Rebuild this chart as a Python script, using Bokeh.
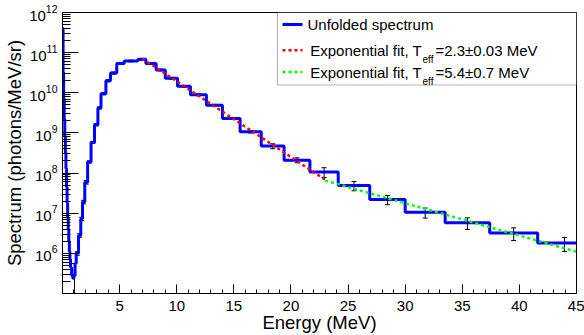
import numpy as np
from bokeh.plotting import figure
from bokeh.models import (FixedTicker, Label, BoxAnnotation, Whisker, TeeHead,
                          ColumnDataSource)
from bokeh.embed import file_html
from bokeh.resources import INLINE

# ---------------- data ----------------
bin_edges = [0.0, 0.05, 0.1, 0.15, 0.2, 0.25, 0.3, 0.35, 0.4, 0.45, 0.5,
             0.55, 0.6, 0.65, 0.7, 0.8, 0.9, 1.0, 1.1, 1.2,
             1.4, 1.6, 1.75, 1.95, 2.2, 2.5, 2.8, 3.1, 3.37, 3.8,
             4.2, 4.75, 5.4, 6.6, 7.3, 8.2, 9.0, 10.07, 11.2, 12.6,
             14.0, 15.55, 17.4, 19.4, 21.66, 24.14, 26.9, 30.0, 33.5, 37.4,
             41.6, 46.3]
spectrum = [4.0e11, 3.2e10, 7.1e9, 2.2e9, 7.9e8, 3.2e8, 1.3e8, 4.5e7, 1.8e7, 7.9e6,
            4.0e6, 2.0e6, 1.1e6, 7.1e5, 4.5e5, 2.8e5, 2.4e5, 2.8e5, 5.6e5,
            1.0e6, 2.8e6, 7.2e6, 1.9e7, 5.9e7, 1.9e8, 5.8e8, 1.6e9, 4.2e9, 9.5e9,
            2.0e10, 3.1e10, 5.4e10, 6.2e10, 6.8e10, 5.4e10, 3.7e10, 2.3e10, 1.45e10, 8.9e9,
            4.9e9, 2.3e9, 1.07e9, 4.7e8, 2.1e8, 1.07e8, 4.9e7, 2.2e7, 1.05e7, 5.8e6,
            3.2e6, 1.8e6]
rel_error = [0, 0, 0, 0, 0, 0, 0, 0, 0, 0,
             0, 0, 0, 0, 0, 0, 0, 1.0, 0,
             0.10, 0.10, 0.10, 0.10, 0.10, 0.06, 0.06, 0.06, 0.06, 0.06,
             0.06, 0.06, 0.06, 0.05, 0.05, 0.05, 0.05, 0.05, 0.05, 0.05,
             0.05, 0.05, 0.07, 0.14, 0.14, 0.27, 0.26, 0.26, 0.28, 0.32,
             0.35, 0.38]

fit1_energy = [7.0, 23.0]
fit1_value = [7.1e10, 6.8e7]
fit2_energy = [23.0, 45.0]
fit2_value = [6.5e7, 1.1e6]

x_ticks = [5, 10, 15, 20, 25, 30, 35, 40, 45]
y_ticks = [1e6, 1e7, 1e8, 1e9, 1e10, 1e11, 1e12]

legend_labels = ["Unfolded spectrum",
                 ("Exponential fit, T", "eff", "=2.3\u00b10.03 MeV"),
                 ("Exponential fit, T", "eff", "=5.4\u00b10.7 MeV")]

# ---------------- layout ----------------
W, H = 584, 335
FL, FR, FT, FB = 62, 576, 12, 295
XMIN, XMAX = 0.0, 45.0
YMIN, YMAX = 1e5, 1e12
FONT = "Liberation Sans"
BLUE, RED, GREEN = "#0000ff", "#ff0000", "#00ff00"


def px2x(px):
    return XMIN + (px - FL) / (FR - FL) * (XMAX - XMIN)


def py2y(py):
    lo, hi = np.log10(YMIN), np.log10(YMAX)
    return 10 ** (hi - (py - FT) / (FB - FT) * (hi - lo))


p = figure(width=W, height=H, x_range=(XMIN, XMAX), y_range=(YMIN, YMAX),
           y_axis_type="log", output_backend="svg", toolbar_location=None,
           min_border_left=FL, min_border_right=W - FR,
           min_border_top=FT, min_border_bottom=H - FB)
p.background_fill_color = "white"
p.border_fill_color = "white"
p.grid.visible = False
p.outline_line_color = "black"
p.outline_line_width = 1
p.outline_line_alpha = 1

xa = p.xaxis[0]
xa.ticker = FixedTicker(ticks=x_ticks, minor_ticks=list(range(0, 46)))
xa.axis_label = "Energy (MeV)"
ya = p.yaxis[0]
ya.ticker = FixedTicker(ticks=y_ticks,
                        minor_ticks=[k * 10.0 ** n for n in range(5, 12) for k in range(1, 10)])
ya.axis_label = "Spectrum (photons/MeV/sr)"
for ax, maj, mino in ((xa, 9, 4), (ya, 16, 8)):
    ax.major_tick_in = maj
    ax.major_tick_out = 0
    ax.minor_tick_in = mino
    ax.minor_tick_out = 0
    ax.major_tick_line_color = "black"
    ax.minor_tick_line_color = "black"
    ax.axis_line_color = "black"
    ax.major_label_text_font = FONT
    ax.major_label_text_font_size = "15px"
    ax.major_label_text_color = "black"
    ax.axis_label_text_font = FONT
    ax.axis_label_text_font_size = "18.5px"
    ax.axis_label_text_font_style = "normal"
    ax.axis_label_text_color = "black"
xa.major_label_standoff = 7
xa.axis_label_standoff = -2
ya.major_label_standoff = 5
ya.axis_label_standoff = 1

# legend box (drawn beneath the glyphs)
p.add_layout(BoxAnnotation(left=px2x(277), right=XMAX, top=YMAX, bottom=py2y(85),
                           fill_color="white", fill_alpha=1, line_color="black",
                           line_width=1, level="underlay"))

# error bars
edges = np.array(bin_edges)
vals = np.array(spectrum)
rel = np.array(rel_error)
centers = 0.5 * (edges[:-1] + edges[1:])
mask = rel > 0
err_src = ColumnDataSource(dict(base=centers[mask], upper=vals[mask] * (1 + rel[mask]),
                                lower=np.maximum(vals[mask] * (1 - rel[mask]), YMIN / 10)))
p.add_layout(Whisker(source=err_src, base="base", upper="upper", lower="lower",
                     dimension="height", line_color="black", line_width=1,
                     upper_head=TeeHead(size=5, line_color="black", line_width=1),
                     lower_head=TeeHead(size=5, line_color="black", line_width=1)))

# histogram as a stair line
xs = np.repeat(edges, 2)[1:-1]
ys = np.repeat(vals, 2)
p.line(xs, ys, line_color=BLUE, line_width=3)

# fits
p.line(fit1_energy, fit1_value, line_color=RED, line_width=2.5, line_dash="3 3")
p.line(fit2_energy, fit2_value, line_color=GREEN, line_width=2.5, line_dash="3 3")

# legend entries
rows_py = [24, 50, 72]
styles = [(BLUE, None), (RED, "3 3"), (GREEN, "3 3")]
for rpy, (col, dash), lab in zip(rows_py, styles, legend_labels):
    yy = py2y(rpy)
    kw = dict(line_color=col, line_width=2.5 if dash else 3)
    if dash:
        kw["line_dash"] = dash
    p.line([px2x(282), px2x(302)], [yy, yy], **kw)
    if isinstance(lab, str):
        p.add_layout(Label(x=px2x(307), y=yy, text=lab, text_font=FONT,
                           text_font_size="15px", text_baseline="middle",
                           text_color="black"))
    else:
        main, sub, rest = lab
        p.add_layout(Label(x=px2x(421.5), y=yy, text=main, text_font=FONT,
                           text_font_size="15px", text_baseline="middle",
                           text_align="right", text_color="black"))
        p.add_layout(Label(x=px2x(422), y=py2y(rpy + 9), text=sub, text_font=FONT,
                           text_font_size="10px", text_baseline="middle",
                           text_color="black"))
        p.add_layout(Label(x=px2x(435), y=yy, text=rest, text_font=FONT,
                           text_font_size="15px", text_baseline="middle",
                           text_color="black"))

open("out.html", "w").write(file_html(p, INLINE))
